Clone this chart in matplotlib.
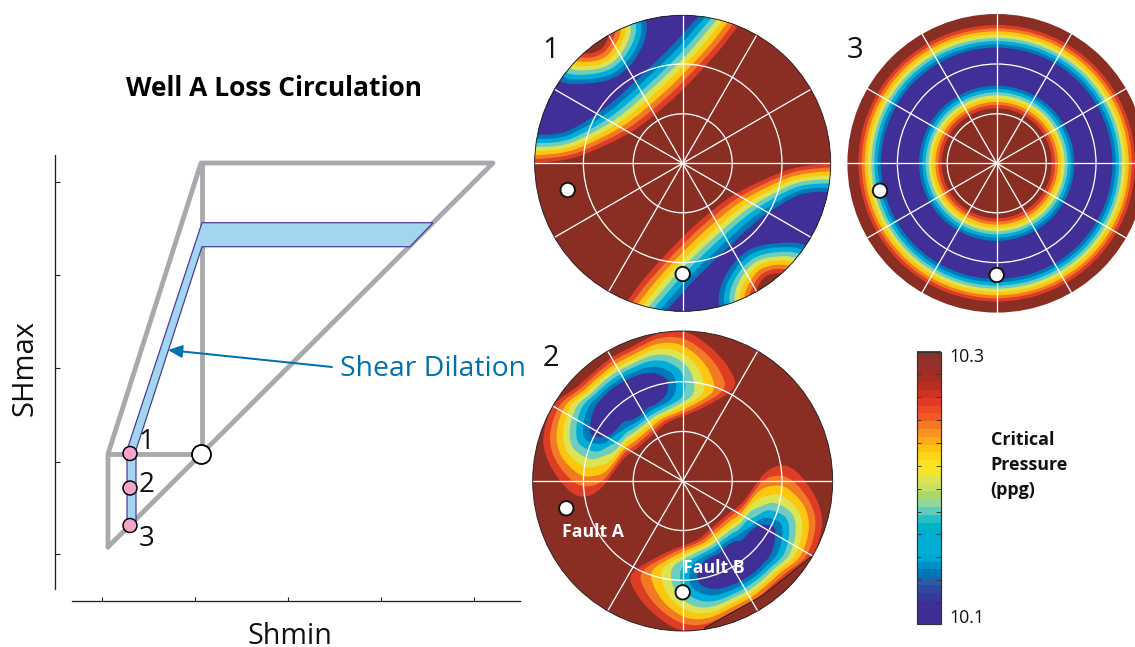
import numpy as np
import matplotlib
matplotlib.use('Agg')
import matplotlib.pyplot as plt
from matplotlib.path import Path
from matplotlib.patches import Circle, PathPatch, Polygon
from matplotlib.colors import ListedColormap

plt.rcParams['font.family'] = ['Open Sans', 'DejaVu Sans']

PX = 0.72  # one pixel in points at dpi 100

# left diagram, picture pixels
frame_lines = [
    ([108, 108, 201, 493, 108], [547, 454, 163, 163, 547]),
    ([108, 201], [454, 454]),
    ([202, 202], [163, 454]),
]
shear_x = [202, 433, 410, 202, 136, 136, 127, 127]
shear_y = [222.7, 222.7, 246.7, 246.7, 450, 525, 525, 450]
state_x = [130, 130, 130]
state_y = [453.5, 488, 525.5]
state_labels = ['1', '2', '3']
state_label_x = [146, 147, 147]
state_label_y = [442, 485, 539]
shmax_ticks = [182, 275, 368, 461.7, 554]
shmin_ticks = [101.7, 194.7, 288, 381, 474]

band_colors = ['#8a2d22', '#dd3c25', '#f27a22', '#fdc70f', '#dce451',
               '#6fcdbd', '#00aed8', '#0078b9', '#3f2f96']

# stereonet centres and radii
net_x = [682.7, 682.7, 996.7]
net_y = [163.3, 481.0, 163.3]
net_r = [148.0, 150.0, 149.3]
net_angles = [
    [0, 30, 60, 90, 120, 150, 180, 210, 240, 270, 300, 330],
    [0, 90, 120, 150, 180, 240, 270, 300, 330, 60],
    [0, 30, 60, 90, 120, 150, 180, 210, 240, 270, 300, 330],
]
ring_radii = [49.5, 99.3]

# net 1: fronts, crop px (3x) from brown side to indigo side
front_x = [
    [-20, 90, 170, 305, 420, 515, 585, 650],
    [-20, 87, 164, 294, 408, 502, 571, 633],
    [-20, 84, 159, 283, 396, 490, 556, 616],
    [-20, 82, 153, 273, 384, 477, 542, 600],
    [-20, 79, 148, 262, 372, 465, 527, 583],
    [-20, 76, 142, 251, 361, 452, 513, 566],
    [-20, 73, 136, 240, 348, 439, 497, 548],
    [-20, 70, 130, 228, 335, 425, 482, 530],
]
front_y = [
    [432, 422, 400, 335, 245, 150, 70, -20],
    [420, 411, 390, 325, 234, 140, 62, -22],
    [408, 400, 379, 315, 223, 130, 55, -24],
    [395, 389, 369, 304, 211, 120, 47, -26],
    [382, 378, 358, 294, 200, 110, 39, -28],
    [370, 367, 348, 284, 189, 100, 31, -31],
    [356, 355, 336, 273, 177, 89, 23, -33],
    [343, 343, 325, 262, 165, 78, 15, -35],
]
# net 1: high pressure island, radii from (180, 30)
island_rays = [0, 30, 60, 90, 120, 150, 180, 210, 240, 270, 300, 330]
island_radii = [
    [170, 170, 170, 175, 180, 180, 180, 180, 178, 160, 161, 161],
    [154, 154, 155, 160, 164, 164, 164, 164, 162, 147, 147, 146],
    [138, 138, 140, 145, 149, 149, 149, 149, 147, 133, 132, 131],
    [122, 122, 125, 130, 134, 134, 134, 134, 132, 120, 119, 117],
    [107, 107, 110, 115, 119, 119, 119, 119, 118, 108, 106, 102],
    [92, 92, 95, 100, 105, 105, 105, 105, 103, 95, 93, 88],
    [77, 77, 80, 85, 90, 90, 90, 90, 89, 83, 79, 74],
    [62, 62, 65, 70, 75, 75, 75, 75, 74, 70, 66, 60],
]
# net 2: low pressure blob, radii from (300, 250)
blob_rays = [0, 11, 22, 37, 53, 68, 90, 112, 135, 158, 178, 199, 215, 232, 242, 250, 262, 280, 319, 342]
blob_radii = [
    [215, 316, 320, 303, 284, 244, 182, 161, 154, 172, 230, 275, 294, 306, 300, 256, 156, 122, 106, 126],
    [192, 284, 292, 280, 262, 226, 169, 150, 144, 160, 212, 254, 272, 278, 265, 226, 139, 110, 96, 114],
    [169, 251, 263, 257, 241, 207, 156, 138, 133, 148, 195, 233, 251, 250, 230, 196, 123, 98, 86, 102],
    [146, 219, 235, 235, 219, 189, 143, 127, 123, 136, 178, 212, 229, 222, 195, 165, 106, 85, 76, 90],
    [123, 187, 207, 212, 198, 170, 130, 116, 113, 124, 160, 191, 208, 193, 160, 135, 90, 73, 66, 78],
    [100, 154, 179, 189, 176, 152, 118, 104, 102, 113, 143, 170, 186, 165, 125, 105, 73, 61, 56, 66],
    [75, 120, 148, 164, 153, 132, 104, 92, 91, 100, 124, 148, 163, 135, 88, 72, 56, 48, 46, 53],
    [50, 85, 118, 140, 130, 112, 90, 80, 80, 87, 105, 125, 140, 105, 50, 40, 38, 35, 35, 40],
]
cut_x = [525, 700, 850, 900, 900, 525]
cut_y = [908, 810, 690, 700, 960, 960]
# net 3: ring edges, crop px
outer_edges = [415, 405, 396, 386, 376, 367, 357, 347]
inner_edges = [233, 223, 213, 204, 194, 184, 175, 165]

# faults on each net
fault_x = [[567.7, 682.7], [566.3, 682.7], [880, 996.7]]
fault_y = [[190, 274], [508.3, 592.3], [190.7, 275]]

# colour bar, top to bottom
cbar_colors = ['#8c3125', '#92302a', '#9c2e26', '#a52d22', '#b92e20', '#cb3322', '#e23a26', '#ea4a25',
               '#f15a24', '#f47a22', '#f7941e', '#fbab17', '#ffc20e', '#fcd51a', '#fae21e', '#f5e42a',
               '#dfe350', '#cbe164', '#a6d96a', '#8fd6a0', '#5eccc0', '#25bfc6', '#00b4c8', '#00afd0',
               '#00aed4', '#00aed8', '#00a6d4', '#0090c6', '#0078b8', '#2a5da8', '#2e4a9e', '#36389a',
               '#3f2e97', '#3f2e97', '#3f2e97']
cbar_ticks = [374.3, 397.3, 420, 443, 466, 488.7, 511.7, 534.3, 557.3, 580, 603]


def smooth(xs, ys, closed=False):
    # Catmull-Rom through the points, as bezier segments
    p = np.column_stack([xs, ys])
    n = len(p)
    verts = [p[0]]
    codes = [Path.MOVETO]
    last = n if closed else n - 1
    for i in range(last):
        if closed:
            a, b, c, d = p[(i - 1) % n], p[i], p[(i + 1) % n], p[(i + 2) % n]
        else:
            a, b, c, d = p[max(i - 1, 0)], p[i], p[i + 1], p[min(i + 2, n - 1)]
        verts += [b + (c - a) / 6, c - (d - b) / 6, c]
        codes += [Path.CURVE4] * 3
    return verts, codes


def fill_path(verts, codes, color, clip):
    patch = PathPatch(Path(verts, codes), facecolor=color, edgecolor='none', zorder=2)
    ax.add_patch(patch)
    patch.set_clip_path(clip)


fig = plt.figure(figsize=(11.35, 6.47), dpi=100)
ax = fig.add_axes([0, 0, 1, 1])

# left diagram
ax.plot([55, 55], [155, 589], color='#231f20', lw=1.3 * PX)
ax.hlines(shmax_ticks, 55, 60, color='#231f20', lw=1.1 * PX)
ax.plot([72, 520], [601, 601], color='#231f20', lw=1.3 * PX)
ax.vlines(shmin_ticks, 597, 601, color='#231f20', lw=1.1 * PX)
for xs, ys in frame_lines:
    ax.plot(xs, ys, color='#a7a9ac', lw=4.8 * PX, solid_joinstyle='round', solid_capstyle='round', zorder=2)
ax.add_patch(Polygon(np.column_stack([shear_x, shear_y]), closed=True, facecolor='#a3d5ee',
                     edgecolor='#43389a', lw=1.2 * PX, zorder=3))
ax.add_patch(Circle((201.5, 454.5), 9.5, facecolor='white', edgecolor='black', lw=1.8 * PX, zorder=4))
for x, y in zip(state_x, state_y):
    ax.add_patch(Circle((x, y), 7.0, facecolor='#f4a6c8', edgecolor='black', lw=1.5 * PX, zorder=4))
for x, y, s in zip(state_label_x, state_label_y, state_labels):
    ax.text(x, y, s, fontsize=20, ha='center', va='center', color='#111111', zorder=5)
ax.annotate('', xy=(168, 350), xytext=(332, 367),
            arrowprops=dict(arrowstyle='-|>,head_length=0.85,head_width=0.38', color='#0071ae', lw=2.0 * PX,
                            shrinkA=0, shrinkB=0), zorder=5)
ax.text(433, 369, 'Shear Dilation', color='#0071ae', fontsize=20.4, ha='center', va='center')
ax.text(273.5, 89, 'Well A Loss Circulation', fontsize=19, fontweight='bold', ha='center', va='center')
ax.text(25, 368, 'SHmax', fontsize=21, rotation=90, ha='center', va='center', color='#111111')
ax.text(290, 637, 'Shmin', fontsize=20.7, ha='center', va='center', color='#111111')

# stereonets
clips = []
for cx, cy, r in zip(net_x, net_y, net_r):
    disk = Circle((cx, cy), r, facecolor=band_colors[0], edgecolor='none', zorder=1)
    ax.add_patch(disk)
    clips.append(disk)

# net 1
cx, cy = net_x[0], net_y[0]
for sign in [1, -1]:
    for fx, fy, col in zip(front_x, front_y, band_colors[1:]):
        px = cx + sign * (np.array(fx) - 458) / 3
        py = cy + sign * (np.array(fy) - 430) / 3
        verts, codes = smooth(px, py)
        verts.append([cx + sign * (-20 - 458) / 3, cy + sign * (-40 - 430) / 3])
        codes.append(Path.LINETO)
        verts.append(verts[0])
        codes.append(Path.CLOSEPOLY)
        fill_path(verts, codes, col, clips[0])
    for radii, col in zip(island_radii, band_colors[7:0:-1] + band_colors[:1]):
        t = np.radians(island_rays)
        px = cx + sign * (180 + np.array(radii) * np.cos(t) - 458) / 3
        py = cy + sign * (30 - np.array(radii) * np.sin(t) - 430) / 3
        verts, codes = smooth(px, py, closed=True)
        fill_path(verts, codes, col, clips[0])

# net 2
cx, cy = net_x[1], net_y[1]
for sign in [1, -1]:
    for radii, col in zip(blob_radii, band_colors[1:]):
        t = np.radians(blob_rays)
        px = cx + sign * (300 + np.array(radii) * np.cos(t) - 458) / 3
        py = cy + sign * (250 - np.array(radii) * np.sin(t) - 468) / 3
        verts, codes = smooth(px, py, closed=True)
        fill_path(verts, codes, col, clips[1])
cut = Polygon(np.column_stack([530 + np.array(cut_x) / 3, 325 + np.array(cut_y) / 3]), closed=True,
              facecolor=band_colors[0], edgecolor='#231f20', lw=0.9 * PX, zorder=2)
ax.add_patch(cut)
cut.set_clip_path(clips[1])

# net 3
cx, cy = net_x[2], net_y[2]
for edge, col in zip(outer_edges, band_colors[1:]):
    ax.add_patch(Circle((cx, cy), edge / 3, facecolor=col, edgecolor='none', zorder=2))
for edge, col in zip(inner_edges, band_colors[7:0:-1] + band_colors[:1]):
    ax.add_patch(Circle((cx, cy), edge / 3, facecolor=col, edgecolor='none', zorder=2))

# grid, outline, faults
for i in range(3):
    cx, cy, r = net_x[i], net_y[i], net_r[i]
    t = np.radians(net_angles[i])
    for ang in t:
        line, = ax.plot([cx, cx + r * np.cos(ang)], [cy, cy - r * np.sin(ang)], color='white',
                        lw=1.3 * PX, zorder=3)
    if i < 2:
        ax.add_patch(Circle((cx, cy), r, facecolor='none', edgecolor='#231f20', lw=0.9 * PX, zorder=3))
    for rr in ring_radii:
        ax.add_patch(Circle((cx, cy), rr, facecolor='none', edgecolor='white', lw=1.3 * PX, zorder=3))
    for x, y in zip(fault_x[i], fault_y[i]):
        ax.add_patch(Circle((x, y), 7.2, facecolor='white', edgecolor='#111111', lw=1.9 * PX, zorder=4))

ax.text(551, 50, '1', fontsize=21, ha='center', va='center', color='#111111')
ax.text(551, 359, '2', fontsize=21, ha='center', va='center', color='#111111')
ax.text(855, 50, '3', fontsize=21, ha='center', va='center', color='#111111')
ax.text(592.5, 532, 'Fault A', color='white', fontsize=12.7, fontweight='bold', ha='center', va='center', zorder=5)
ax.text(713.5, 568, 'Fault B', color='white', fontsize=12.7, fontweight='bold', ha='center', va='center', zorder=5)

# colour bar
ax.imshow(np.arange(len(cbar_colors)).reshape(-1, 1), cmap=ListedColormap(cbar_colors), aspect='auto',
          extent=(916.7, 940.7, 624, 351.7), interpolation='nearest', zorder=2)
ax.add_patch(plt.Rectangle((916.7, 351.7), 24, 272.3, facecolor='none', edgecolor='#333333', lw=1.2 * PX, zorder=3))
ax.hlines(cbar_ticks, 916.7, 921, color='#333333', lw=0.9 * PX, zorder=3)
ax.hlines(cbar_ticks, 936.4, 940.7, color='#333333', lw=0.9 * PX, zorder=3)
ax.text(949, 357, '10.3', fontsize=12.8, va='center', color='#111111')
ax.text(949, 618, '10.1', fontsize=12.8, va='center', color='#111111')
for y, s in zip([440, 465, 490], ['Critical', 'Pressure', '(ppg)']):
    ax.text(990.5, y, s, fontsize=12.9, fontweight='bold', va='center', color='#111111')

ax.set_xlim(0, 1135)
ax.set_ylim(647, 0)
ax.axis('off')

fig.savefig('out.png', dpi=100)
